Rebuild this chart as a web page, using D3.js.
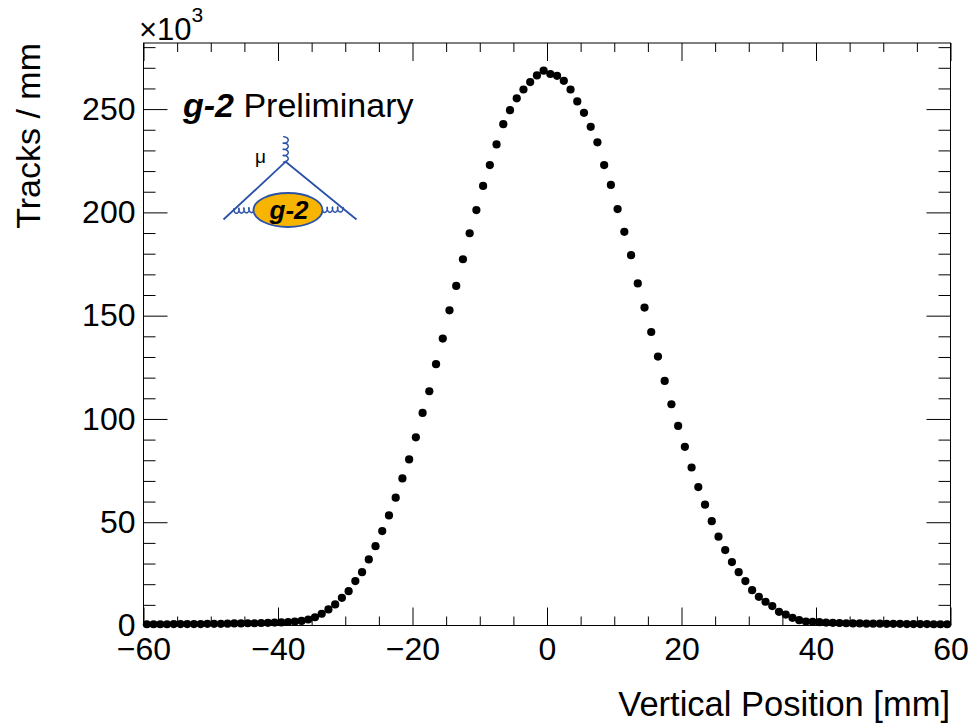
<!DOCTYPE html>
<html>

<head>
  <title>Vertical Position</title>
  <style>
    body { margin: 0; background: #fff; }
    text { font-family: 'Liberation Sans', Arial, Helvetica, sans-serif; }
  </style>
</head>

<body>
  <svg id="main" width="971" height="726"></svg>

  <script src="https://cdn.jsdelivr.net/npm/d3@7.0.1/dist/d3.min.js"></script>
  <script>
    // histogram: 1 mm bins from -60 to 60, counts in units of 10^3 tracks
    const binCenters = d3.range(-59.5, 60, 1)
    const counts = [
      0.6, 0.6, 0.6, 0.6, 0.7, 0.7, 0.7, 0.7, 0.7, 0.8,
      0.8, 0.8, 0.9, 1.0, 1.0, 1.1, 1.1, 1.2, 1.3, 1.4,
      1.5, 1.7, 1.9, 2.2, 2.9, 4.0, 5.7, 7.8, 10.2, 13.4,
      16.6, 21.5, 25.8, 32.0, 38.4, 45.7, 53.3, 61.9, 71.2, 80.4,
      91.1, 102.9, 113.4, 126.5, 138.9, 152.6, 164.4, 177.3, 189.9, 201.1,
      212.8, 222.9, 232.9, 242.7, 249.5, 255.2, 259.5, 263.1, 266.3, 268.6,
      267.0, 266.1, 263.7, 259.5, 253.7, 248.2, 241.4, 233.9, 222.9, 213.3,
      201.6, 190.6, 179.3, 165.6, 153.9, 142.1, 130.2, 118.4, 107.1, 96.6,
      86.5, 76.5, 67.0, 58.5, 50.5, 43.0, 36.5, 30.7, 25.8, 21.5,
      17.1, 13.9, 11.5, 9.4, 6.6, 5.3, 3.7, 2.6, 1.9, 1.8,
      1.6, 1.4, 1.3, 1.2, 1.1, 1.0, 1.0, 0.9, 0.9, 0.9,
      0.8, 0.8, 0.8, 0.7, 0.7, 0.7, 0.7, 0.6, 0.6, 0.6
    ]
    const xTicks = [-60, -40, -20, 0, 20, 40, 60]
    const xMinor = [-55, -50, -45, -35, -30, -25, -15, -10, -5, 5, 10, 15, 25, 30, 35, 45, 50, 55]
    const yTicks = [0, 50, 100, 150, 200, 250]
    const yMinor = [10, 20, 30, 40, 60, 70, 80, 90, 110, 120, 130, 140, 160, 170, 180, 190, 210, 220, 230, 240, 260, 270, 280]

    const data = binCenters.map((c, i) => ({ x: c, y: counts[i] }))

    const svg = d3.select('#main')
    const width = +svg.attr('width')
    const height = +svg.attr('height')
    const margin = { top: 43, right: 20.5, bottom: 100.5, left: 143.5 }
    const innerWidth = width - margin.left - margin.right
    const innerHeight = height - margin.top - margin.bottom

    const g = svg.append('g')
      .attr('transform', `translate(${margin.left}, ${margin.top})`)

    const xScale = d3.scaleLinear().domain([-60, 60]).range([0, innerWidth])
    const yScale = d3.scaleLinear().domain([0, 282]).range([innerHeight, 0])

    // axes: ticks on all four sides, pointing inwards
    const styleAxis = sel => {
      sel.select('.domain').remove()
      sel.selectAll('.tick line').attr('stroke', '#000').attr('stroke-width', 1)
      sel.selectAll('.tick text').attr('font-size', 32).attr('fill', '#000')
        .attr('font-family', "'Liberation Sans', Arial, sans-serif")
    }

    g.append('g').attr('transform', `translate(0, ${innerHeight})`)
      .call(d3.axisBottom(xScale).tickValues(xTicks).tickSize(-18).tickPadding(12))
      .call(styleAxis)
    g.append('g').attr('transform', `translate(0, ${innerHeight})`)
      .call(d3.axisBottom(xScale).tickValues(xMinor).tickSize(-9).tickFormat(''))
      .call(styleAxis)
    g.append('g')
      .call(d3.axisTop(xScale).tickValues(xTicks).tickSize(-18).tickFormat(''))
      .call(styleAxis)
    g.append('g')
      .call(d3.axisTop(xScale).tickValues(xMinor).tickSize(-9).tickFormat(''))
      .call(styleAxis)

    g.append('g')
      .call(d3.axisLeft(yScale).tickValues(yTicks).tickSize(-24).tickPadding(8))
      .call(styleAxis)
    g.append('g')
      .call(d3.axisLeft(yScale).tickValues(yMinor).tickSize(-12).tickFormat(''))
      .call(styleAxis)
    g.append('g').attr('transform', `translate(${innerWidth}, 0)`)
      .call(d3.axisRight(yScale).tickValues(yTicks).tickSize(-24).tickFormat(''))
      .call(styleAxis)
    g.append('g').attr('transform', `translate(${innerWidth}, 0)`)
      .call(d3.axisRight(yScale).tickValues(yMinor).tickSize(-12).tickFormat(''))
      .call(styleAxis)

    g.append('rect')
      .attr('width', innerWidth).attr('height', innerHeight)
      .attr('fill', 'none').attr('stroke', '#000').attr('stroke-width', 1)

    // data points with x error bars
    g.selectAll('.xerr').data(data)
      .join('line')
      .attr('class', 'xerr')
      .attr('x1', d => xScale(d.x - 0.5))
      .attr('x2', d => xScale(d.x + 0.5))
      .attr('y1', d => yScale(d.y))
      .attr('y2', d => yScale(d.y))
      .attr('stroke', '#000').attr('stroke-width', 1.2)

    g.selectAll('.point').data(data)
      .join('circle')
      .attr('class', 'point')
      .attr('cx', d => xScale(d.x))
      .attr('cy', d => yScale(d.y))
      .attr('r', 4.1)
      .attr('fill', '#000')

    // axis titles
    svg.append('text').text('Vertical Position [mm]')
      .attr('x', 950).attr('y', 716)
      .attr('text-anchor', 'end').attr('font-size', 34.5)

    svg.append('text').text('Tracks / mm')
      .attr('transform', 'translate(40, 43) rotate(-90)')
      .attr('text-anchor', 'end').attr('font-size', 34)

    // exponent
    const ex = svg.append('text').attr('x', 139).attr('y', 40).attr('font-size', 31)
    ex.append('tspan').text('×10')
    ex.append('tspan').text('3').attr('font-size', 21).attr('dy', -18)

    // label
    const lab = svg.append('text').attr('x', 183).attr('y', 117).attr('font-size', 34)
    lab.append('tspan').text('g-2').attr('font-weight', 'bold').attr('font-style', 'italic')
    lab.append('tspan').text(' Preliminary')

    // g-2 logo
    const blue = '#2b52a8'
    const logo = svg.append('g')
    const coil = (x0, y0, x1, y1, n, r) => {
      const len = Math.hypot(x1 - x0, y1 - y0)
      const ux = (x1 - x0) / len, uy = (y1 - y0) / len
      const px = -uy, py = ux
      const a = len / (2 * Math.PI * n)
      const pts = d3.range(0, 2 * Math.PI * n + 0.01, 0.2).map(t => {
        const s = a * t - 1.4 * a * Math.sin(t)
        const p = r * (1 - Math.cos(t)) / 2 - r / 2
        return [x0 + ux * s + px * p, y0 + uy * s + py * p]
      })
      logo.append('path').attr('d', d3.line()(pts))
        .attr('fill', 'none').attr('stroke', blue).attr('stroke-width', 1.5)
    }
    logo.append('path')
      .attr('d', 'M223.5,219.5 L285.7,161.7 L356.5,219.5')
      .attr('fill', 'none').attr('stroke', blue).attr('stroke-width', 1.8)
    coil(285.7, 161.7, 285.7, 137, 4, 5)
    coil(234, 211, 254, 210, 4, 5)
    coil(322, 210, 343, 209.5, 4, 5)
    logo.append('ellipse')
      .attr('cx', 288).attr('cy', 210).attr('rx', 34.5).attr('ry', 17)
      .attr('fill', '#f7b400').attr('stroke', blue).attr('stroke-width', 1.8)
    logo.append('text').text('g-2')
      .attr('x', 289).attr('y', 219).attr('text-anchor', 'middle')
      .attr('font-size', 26).attr('font-weight', 'bold').attr('font-style', 'italic')
    logo.append('text').text('μ')
      .attr('x', 255).attr('y', 163)
      .attr('font-family', "'DejaVu Serif', serif").attr('font-size', 19)
  </script>
</body>

</html>
